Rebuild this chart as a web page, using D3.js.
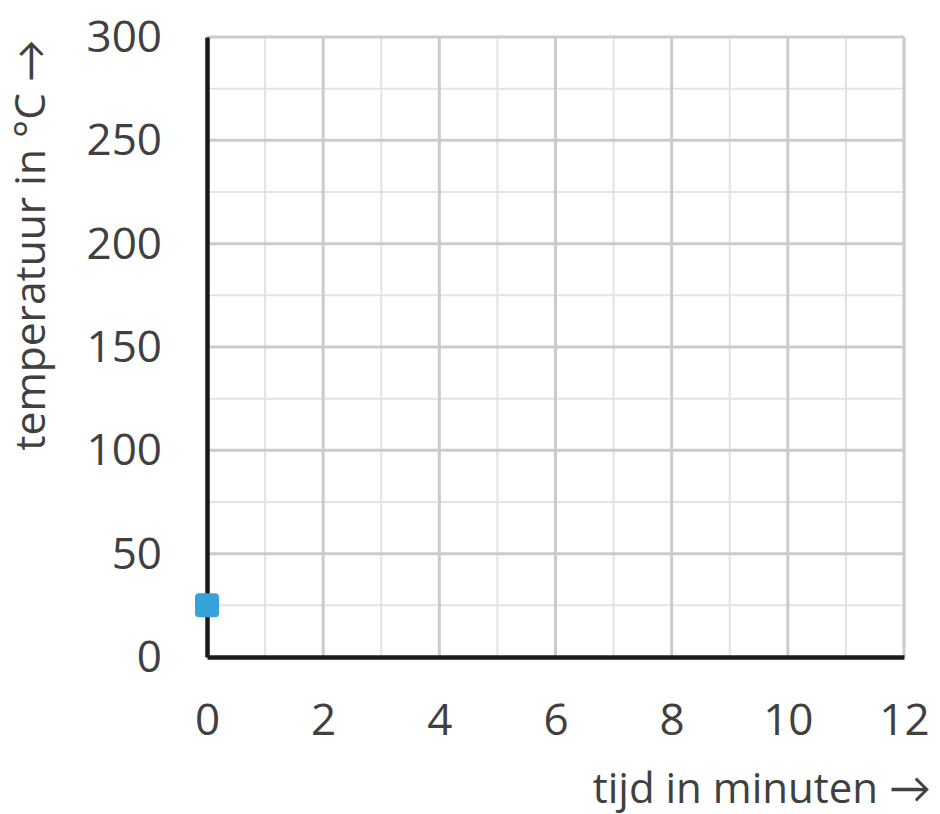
<!DOCTYPE html>
<html><head><meta charset="utf-8">
<script src="https://cdn.jsdelivr.net/npm/d3@7"></script>
<style>body{margin:0;background:#fff}svg{display:block}</style>
</head><body><div id="chart"></div>
<script>
const xTicks = [0,2,4,6,8,10,12];
const yTicks = [0,50,100,150,200,250,300];
const xMinor = [1,3,5,7,9,11];
const yMinor = [25,75,125,175,225,275];
const points = [{t:0, temp:25}];

const W=940,H=814;
const svg=d3.select("#chart").append("svg").attr("width",W).attr("height",H);
const x=d3.scaleLinear().domain([0,12]).range([207,904]);
const y=d3.scaleLinear().domain([0,300]).range([657,37]);
const font="'Open Sans', Lato, sans-serif";

const g=svg.append("g");
g.selectAll(".minx").data(xMinor).join("line")
 .attr("x1",d=>x(d)).attr("x2",d=>x(d)).attr("y1",y(300)).attr("y2",y(0))
 .attr("stroke","#e3e3e3").attr("stroke-width",2);
g.selectAll(".miny").data(yMinor).join("line")
 .attr("y1",d=>y(d)).attr("y2",d=>y(d)).attr("x1",x(0)).attr("x2",x(12))
 .attr("stroke","#e3e3e3").attr("stroke-width",2);
g.selectAll(".majx").data(xTicks.slice(1)).join("line")
 .attr("x1",d=>x(d)).attr("x2",d=>x(d)).attr("y1",y(300)).attr("y2",y(0))
 .attr("stroke","#cbcbcb").attr("stroke-width",3);
g.selectAll(".majy").data(yTicks.slice(1)).join("line")
 .attr("y1",d=>y(d)).attr("y2",d=>y(d)).attr("x1",x(0)).attr("x2",x(12))
 .attr("stroke","#cbcbcb").attr("stroke-width",3);

// axes
const xAxis=d3.axisBottom(x).tickValues(xTicks).tickSize(0).tickPadding(47);
const yAxis=d3.axisLeft(y).tickValues(yTicks).tickSize(0).tickPadding(45);
const gx=svg.append("g").attr("transform",`translate(0,${y(0)})`).call(xAxis);
const gy=svg.append("g").attr("transform",`translate(${x(0)},0)`).call(yAxis);
[gx,gy].forEach(a=>{a.select(".domain").attr("stroke","#1a1a1a").attr("stroke-width",4.5);
 a.selectAll("text").attr("font-family",font).attr("font-size",44).attr("fill","#404040");});
gy.selectAll("text").attr("dy","0.33em");

svg.selectAll(".pt").data(points).join("rect")
 .attr("x",d=>x(d.t)-12).attr("y",d=>y(d.temp)-12).attr("width",24).attr("height",24)
 .attr("rx",4).attr("fill","#35a3d9");

svg.append("text").attr("x",931).attr("y",803).attr("text-anchor","end")
 .attr("font-family",font).attr("font-size",42).attr("fill","#404040").text("tijd in minuten →");
svg.append("text").attr("transform","translate(45,245) rotate(-90)").attr("text-anchor","middle")
 .attr("font-family",font).attr("font-size",42.5).attr("fill","#404040").text("temperatuur in °C →");
</script></body></html>
